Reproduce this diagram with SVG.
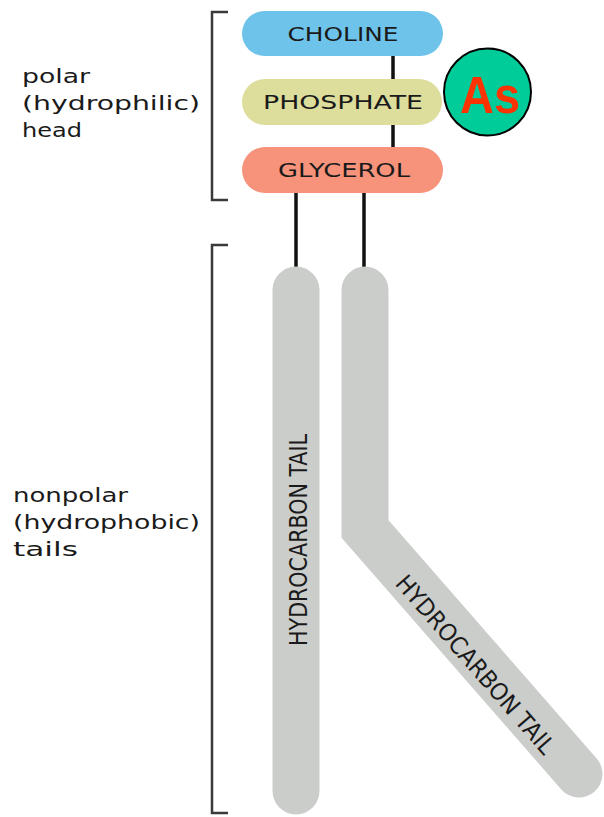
<svg xmlns="http://www.w3.org/2000/svg" width="604" height="817" viewBox="0 0 604 817">
<style>
.lbl{font-family:"DejaVu Sans",sans-serif;font-size:20px;fill:#1a1a1a}
.head{font-family:"DejaVu Sans",sans-serif;font-size:19px;fill:#1a1a1a;text-anchor:middle}
.tailtxt{font-family:"DejaVu Sans Condensed","DejaVu Sans",sans-serif;font-size:24px;fill:#1a1a1a;text-anchor:middle}
.brk{fill:none;stroke:#3a3a3a;stroke-width:2.5}
.conn{stroke:#111;stroke-width:3.5}
.tail{fill:none;stroke:#CBCDCB;stroke-width:47;stroke-linecap:round;stroke-linejoin:miter}
</style>
<rect width="604" height="817" fill="#fff"/>
<g id="brackets">
<path class="brk" d="M228,12 H212 V200 H228"/>
<path class="brk" d="M228,245 H212 V813 H228"/>
</g>
<g id="labels">
<text class="lbl" x="22" y="83" textLength="68" lengthAdjust="spacingAndGlyphs">polar</text>
<text class="lbl" x="22" y="110" textLength="178" lengthAdjust="spacingAndGlyphs">(hydrophilic)</text>
<text class="lbl" x="22" y="137" textLength="60" lengthAdjust="spacingAndGlyphs">head</text>
<text class="lbl" x="13" y="502" textLength="115" lengthAdjust="spacingAndGlyphs">nonpolar</text>
<text class="lbl" x="13" y="529" textLength="187" lengthAdjust="spacingAndGlyphs">(hydrophobic)</text>
<text class="lbl" x="13" y="556" textLength="65" lengthAdjust="spacingAndGlyphs">tails</text>
</g>
<g id="connectors">
<line class="conn" x1="393" y1="55" x2="393" y2="80"/>
<line class="conn" x1="393" y1="124" x2="393" y2="148"/>
<line class="conn" x1="296" y1="192" x2="296" y2="268"/>
<line class="conn" x1="364" y1="192" x2="364" y2="268"/>
</g>
<g id="tail1">
<path class="tail" d="M296,290 V791"/>
<text class="tailtxt" transform="translate(307,540) rotate(-90)" textLength="212" lengthAdjust="spacingAndGlyphs">HYDROCARBON TAIL</text>
</g>
<g id="tail2">
<path class="tail" d="M365,290 V529 L579,774"/>
<text class="tailtxt" transform="translate(469,670) rotate(49)" textLength="228" lengthAdjust="spacingAndGlyphs">HYDROCARBON TAIL</text>
</g>
<g id="choline">
<rect x="242" y="11" width="201" height="45" rx="22.5" fill="#6EC3EA"/>
<text class="head" x="343" y="41" textLength="111" lengthAdjust="spacingAndGlyphs">CHOLINE</text>
</g>
<g id="phosphate">
<rect x="242" y="79" width="200" height="46" rx="23" fill="#DDDD9C"/>
<text class="head" x="343" y="109" textLength="160" lengthAdjust="spacingAndGlyphs">PHOSPHATE</text>
</g>
<g id="glycerol">
<rect x="242" y="147" width="201" height="46" rx="23" fill="#F6937A"/>
<text class="head" x="344" y="177" textLength="132" lengthAdjust="spacingAndGlyphs">GLYCEROL</text>
</g>
<g id="arsenic">
<circle cx="487.5" cy="92" r="43.5" fill="#00CC99" stroke="#000" stroke-width="2"/>
<text x="490" y="113" font-family="Liberation Sans, Arial, sans-serif" font-weight="bold" font-size="52" fill="#FF3300" text-anchor="middle" textLength="60" lengthAdjust="spacingAndGlyphs">As</text>
</g>
</svg>
